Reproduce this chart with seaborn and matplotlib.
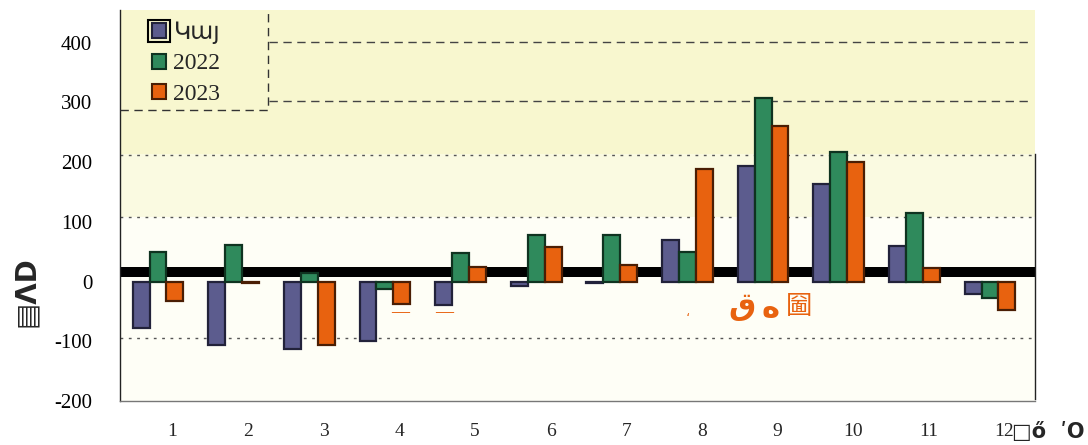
import matplotlib
matplotlib.use("Agg")
import matplotlib.pyplot as plt
import matplotlib.patches as mpatches
import numpy as np
import pandas as pd
import seaborn as sns

months = [str(m) for m in range(1, 13)]
series_names = ["Կայ", "2022", "2023"]
vals_a = [-78, -107, -113, -100, -40, -7, -2, 70, 193, 163, 60, -20]
vals_2022 = [50, 62, 15, -12, 48, 78, 78, 50, 308, 217, 115, -27]
vals_2023 = [-33, -3, -107, -37, 25, 58, 28, 188, 260, 200, 22, -47]
yticks = [-200, -100, 0, 100, 200, 300, 400]
colors = ["#5c5c8e", "#2f8a5c", "#e8620f"]
edge_colors = ["#22223a", "#0f3320", "#4a1e04"]

df = pd.DataFrame({
    "month": months * 3,
    "value": vals_a + vals_2022 + vals_2023,
    "series": [s for s in series_names for _ in months],
})

sns.set_theme(style="white")
plt.rcParams["font.family"] = ["Liberation Serif", "DejaVu Sans", "Noto Sans CJK SC"]

fig = plt.figure(figsize=(10.88, 4.45), dpi=100)
ax = fig.add_axes([0.1103, 0.0989, 0.841, 0.8787])

# background bands
ax.axhspan(213, 460, color="#f8f7cf", zorder=0, lw=0)
ax.axhspan(108, 213, color="#fafae1", zorder=0, lw=0)
ax.axhspan(-200, 108, color="#fefef6", zorder=0, lw=0)

# grid lines
for lvl in [212, 108, -95]:
    ax.axhline(lvl, color="#555555", lw=1, ls=(0, (2, 4)), zorder=1)
for lvl in [402, 303]:
    ax.axhline(lvl, xmin=0.163, xmax=0.993, color="#444444", lw=1, ls=(0, (6, 4)), zorder=1)

# thick black band around zero
ax.axhspan(7, 25, color="black", zorder=2, lw=0)

sns.barplot(data=df, x="month", y="value", hue="series", palette=colors,
            width=0.67, gap=0, ax=ax, zorder=3, saturation=1, legend=False)

for i, cont in enumerate(ax.containers):
    for bar in cont:
        bar.set_edgecolor(edge_colors[i])
        bar.set_linewidth(1.6)

ax.set_xlim(-0.502, 11.595)
ax.set_ylim(-197, 455)
ax.set_yticks(yticks)
ax.set_yticklabels([str(t) for t in yticks], fontsize=15)
ax.set_xticks(np.arange(12) + 0.19)
ax.set_xticklabels(months, fontsize=14)
ax.tick_params(axis="y", direction="in", length=5, pad=20, colors="black")
ax.tick_params(axis="x", length=0, pad=16)
ax.set_xlabel("")
ax.set_ylabel("")

ax.spines["top"].set_visible(False)
ax.spines["right"].set_bounds(-197, 213)
ax.spines["right"].set_color("#222222")
ax.spines["bottom"].set_color("#777777")
ax.spines["left"].set_color("#222222")
for side in ["left", "right", "bottom"]:
    ax.spines[side].set_linewidth(1)

# legend box (right and bottom dashed edges)
ax.plot([0, 0.162, 0.162], [0.744, 0.744, 1.0], transform=ax.transAxes,
        ls=(0, (6, 4)), lw=1, color="#333333", zorder=4, clip_on=False)
handles = [mpatches.Patch(facecolor=c, edgecolor=e, lw=1.5) for c, e in zip(colors, edge_colors)]
leg = ax.legend(handles, series_names, loc="upper left", bbox_to_anchor=(0.012, 1.025),
                frameon=False, fontsize=17, handlelength=0.6, handleheight=0.6,
                handletextpad=0.3, labelspacing=0.4)
for t in leg.get_texts():
    t.set_family(["Liberation Serif", "DejaVu Sans"])
# outline box around first legend marker
ax.add_patch(mpatches.Rectangle((0.0306, 0.918), 0.024, 0.056, transform=ax.transAxes,
                                fill=False, lw=1.5, edgecolor="black", zorder=6))

# orange stray texts
for xx in [3.2, 3.78]:
    ax.text(xx, -52, "—", color="#e8620f", ha="center", va="center", fontsize=13,
            fontweight="bold", zorder=5)
ax.text(7.0, -52, "،", color="#e8620f", ha="center", va="center", fontsize=9,
        family=["DejaVu Sans"], zorder=5)
ax.text(7.72, -42, "ق", color="#e8620f", ha="center", va="center", fontsize=22,
        family=["DejaVu Sans"], fontweight="bold", zorder=5)
ax.text(8.1, -45, "ه", color="#e8620f", ha="center", va="center", fontsize=22,
        family=["DejaVu Sans"], fontweight="bold", zorder=5)
ax.text(8.47, -42, "圙", color="#e8620f", ha="center", va="center", fontsize=19,
        family=["Noto Sans CJK SC", "DejaVu Sans"], zorder=5)

# garbled axis labels
fig.text(0.024, 0.345, "▤ΛD", rotation=90, ha="center", va="center", fontsize=20,
         family=["DejaVu Sans"], fontweight="bold")
fig.text(0.93, 0.03, "□ő  ʹO", ha="left", va="center", fontsize=15,
         family=["DejaVu Sans"], fontweight="bold")

fig.savefig("out.png", dpi=100)
